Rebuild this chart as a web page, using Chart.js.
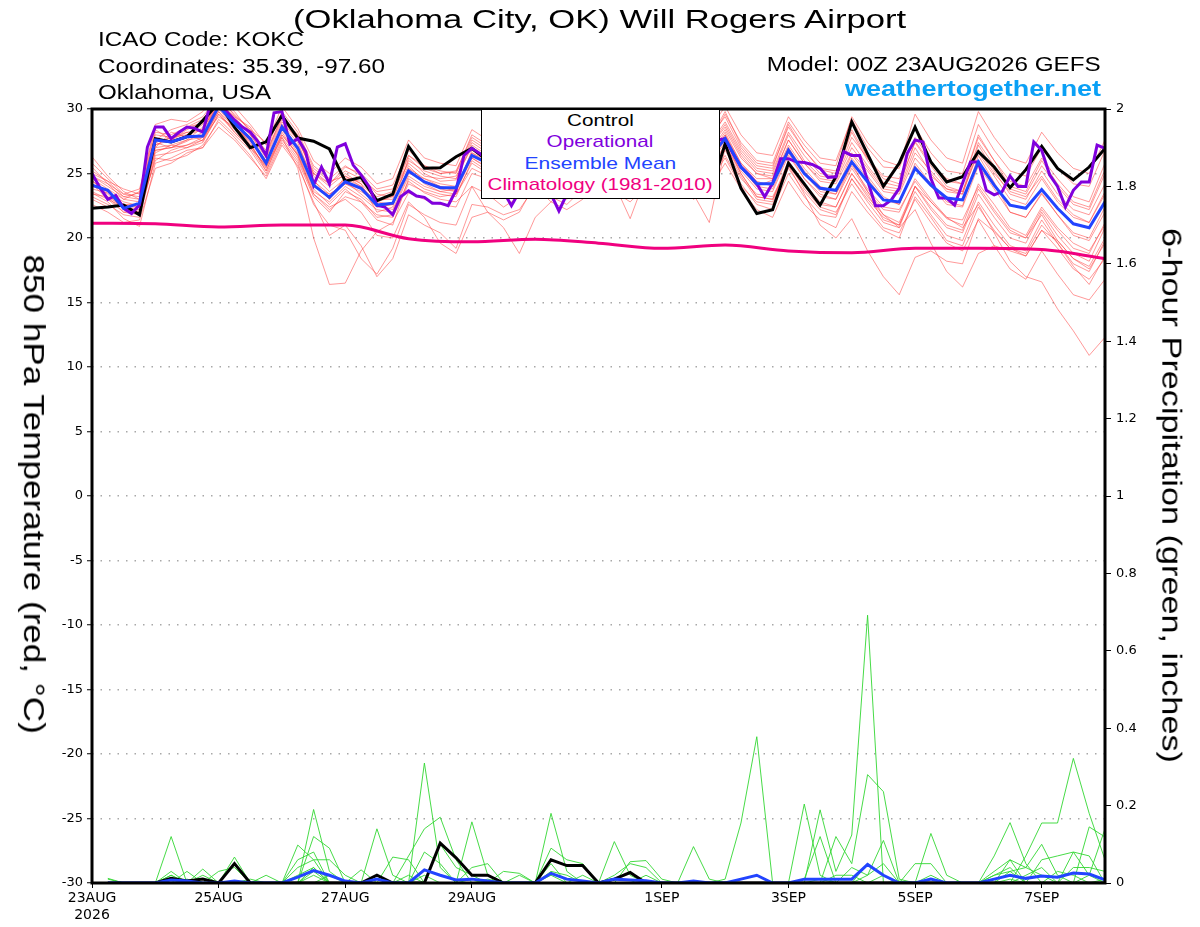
<!DOCTYPE html>
<html>
<head>
<meta charset="utf-8">
<script src="https://cdn.jsdelivr.net/npm/chart.js"></script>
<style>
  html, body { margin: 0; padding: 0; background: #fff; overflow: hidden; }
  #wrap { position: relative; width: 1200px; height: 927px; }
  #c { position: absolute; left: 0; top: 0; }
  .txt { position: absolute; white-space: nowrap; line-height: 1; font-family: "Liberation Sans", Arial, sans-serif; }
  #legendBox { position: absolute; left: 481px; top: 109px; width: 239px; height: 90px; box-sizing: border-box;
               background: #fff; border: 1.5px solid #000; }
</style>
</head>
<body>
<div id="wrap">
  <canvas id="c" width="1200" height="927"></canvas>
  <div id="legendBox"></div>
</div>
<script>
// ---------------- DATA ----------------
const tickHours = [0, 48, 96, 144, 216, 264, 312, 360];
const tickLabels = [['23AUG', '2026'], '25AUG', '27AUG', '29AUG', '1SEP', '3SEP', '5SEP', '7SEP'];

// 6-hourly (00Z 23AUG -> 00Z 8SEP), 850 hPa temperature, deg C
const controlTemp = [22.3, 22.4, 22.55, 21.8, 27.7, 27.45, 27.85, 29.1, 30.5, 28.6, 27.0, 27.45, 29.5, 27.75, 27.5, 26.9,
  24.4, 24.7, 22.9, 23.4, 27.1, 25.4, 25.45, 26.3, 26.95, 26.0, 25.0, 25.8, 27.0, 26.0, 25.5, 26.5,
  27.5, 26.5, 25.8, 27.0, 28.0, 26.5, 25.0, 23.3, 27.3, 23.85, 21.9, 22.2, 25.8, 24.2, 22.55, 24.75,
  29.0, 26.5, 24.0, 25.8, 28.6, 25.9, 24.35, 24.75, 26.7, 25.5, 23.9, 25.3, 27.1, 25.4, 24.5, 25.5, 26.95];

const meanTemp = [24.1, 23.7, 22.3, 22.7, 27.6, 27.45, 27.85, 27.9, 30.2, 28.9, 27.7, 25.8, 28.6, 26.95, 24.1, 23.15,
  24.35, 23.85, 22.55, 22.7, 25.2, 24.35, 23.9, 23.9, 26.4, 25.8, 25.0, 25.5, 26.5, 25.2, 25.0, 26.0,
  26.8, 26.0, 25.5, 26.5, 27.0, 26.0, 25.5, 26.2, 27.7, 25.5, 24.2, 24.2, 26.8, 25.0, 23.85, 23.7,
  25.9, 24.35, 22.95, 22.8, 25.4, 24.1, 23.1, 22.95, 25.9, 24.1, 22.55, 22.3, 23.75, 22.3, 21.1, 20.8, 22.8];

// 3-hourly operational run
const operationalTemp = [25.0, 23.9, 23.0, 23.3, 22.3, 21.9, 22.55, 27.05, 28.6, 28.6, 27.7, 28.2, 28.6, 28.5, 28.2, 30.5,
  30.6, 29.8, 29.15, 28.6, 28.2, 27.45, 26.4, 29.7, 29.8, 27.3, 27.7, 26.7, 24.1, 25.5, 24.2, 27.05,
  27.3, 25.65, 24.9, 24.0, 22.55, 22.4, 21.8, 23.2, 23.65, 23.25, 23.15, 22.7, 22.7, 22.5, 23.7, 26.4,
  26.95, 26.55, 26.0, 25.0, 23.6, 22.5, 23.6, 25.0, 26.0, 25.0, 23.4, 22.1, 23.4, 25.0, 26.0, 26.5,
  26.0, 25.5, 26.0, 26.5, 27.0, 26.5, 26.0, 26.5, 27.0, 27.5, 27.0, 26.5, 27.0, 27.5, 27.5, 27.6,
  27.7, 26.55, 25.5, 24.9, 24.2, 23.2, 24.25, 26.15, 26.15, 25.9, 25.85, 25.7, 25.4, 24.7, 24.75, 26.7,
  26.4, 26.4, 24.45, 22.5, 22.5, 22.95, 23.85, 26.55, 27.6, 27.45, 24.6, 23.1, 23.1, 22.55, 24.25, 25.9,
  25.9, 23.7, 23.35, 23.6, 24.8, 24.0, 24.0, 27.45, 26.8, 24.9, 24.0, 22.4, 23.7, 24.35, 24.35, 27.2, 26.95];

// daily climatology (1981-2010)
const climatologyTemp = [21.15, 21.1, 20.85, 21.0, 21.0, 19.95, 19.7, 19.9, 19.6, 19.2, 19.45, 19.0, 18.85, 19.2, 19.2, 19.1, 18.4];

// ensemble members, 6-hourly temperature
const tempMember01 = [24.8,24.0,23.2,23.5, 28.2,28.0,28.6,28.9, 31.0,29.5,28.4,26.5, 29.4,27.8,25.0,24.2, 25.5,25.0,23.8,24.1, 26.8,25.6,25.0,25.1, 28.0,27.2,26.4,26.9, 28.9,27.0,26.1,27.2, 28.5,27.6,26.8,28.0, 29.5,27.8,26.9,27.6, 29.8,27.2,25.8,25.6, 28.6,26.8,25.3,25.0, 28.2,26.0,24.3,24.0, 27.5,25.8,24.6,24.2, 27.8,26.0,24.0,23.6, 26.0,24.2,22.8,22.4, 25.3];
const tempMember02 = [24.5,23.2,22.0,21.8, 26.8,27.0,27.5,28.2, 30.5,29.0,27.2,25.5, 27.8,25.4,20.0,16.4, 16.5,19.0,20.5,21.2, 23.5,23.0,22.6,22.4, 25.0,24.6,23.8,24.2, 25.8,24.3,23.4,24.8, 26.2,25.0,24.2,25.6, 26.8,25.2,24.0,25.0, 27.2,25.0,23.2,23.0, 26.0,24.2,22.8,22.4, 25.0,23.2,21.8,21.2, 24.0,22.8,21.5,21.0, 24.2,22.6,20.8,20.2, 22.4,20.8,19.6,19.0, 21.0];
const tempMember03 = [23.8,23.5,22.8,22.5, 27.2,27.8,28.2,27.5, 29.6,28.2,27.0,25.2, 28.0,26.5,23.8,22.6, 23.8,22.8,21.4,21.0, 24.6,23.8,23.4,23.2, 26.0,25.2,24.2,24.8, 26.5,25.2,24.8,25.5, 26.2,25.6,25.0,26.2, 26.8,25.8,25.0,26.0, 28.0,25.6,24.0,24.5, 27.2,25.4,24.0,23.6, 26.5,24.8,23.2,22.6, 25.8,24.2,22.8,22.5, 26.4,24.3,22.0,21.6, 23.5,21.8,20.2,19.8, 22.0];
const tempMember04 = [25.5,24.2,23.0,23.6, 28.8,29.2,29.0,29.8, 31.2,30.2,28.8,27.2, 30.2,28.5,26.0,25.0, 26.2,25.5,24.2,24.6, 27.6,26.2,25.8,25.6, 28.4,27.6,27.0,27.4, 29.6,28.0,27.4,28.2, 29.8,28.6,27.8,28.8, 30.4,28.6,27.6,28.4, 30.2,28.0,26.6,26.4, 29.4,27.6,26.2,26.0, 29.2,27.0,25.5,25.4, 28.6,26.6,25.2,25.0, 28.8,26.8,25.2,24.8, 27.0,25.4,24.2,24.0, 26.8];
const tempMember05 = [24.2,23.0,22.4,22.2, 27.4,27.0,27.2,27.6, 30.0,28.6,27.5,26.0, 28.4,27.2,24.5,23.0, 24.8,24.0,22.6,22.2, 25.0,24.6,24.0,23.6, 26.2,25.5,24.6,25.0, 26.6,25.0,24.5,25.8, 27.0,26.2,25.4,26.4, 27.2,26.0,25.2,25.8, 27.6,25.0,23.2,23.0, 25.6,23.4,21.0,20.0, 21.5,19.0,17.0,15.6, 18.5,19.0,18.2,18.0, 21.5,20.5,19.2,18.6, 20.6,19.8,18.4,17.6, 19.6];
const tempMember06 = [23.5,22.8,21.5,20.9, 25.8,26.2,26.8,27.0, 29.2,28.0,26.8,25.0, 27.6,26.0,23.2,22.0, 23.6,23.0,21.6,21.8, 24.4,23.5,23.0,22.8, 24.0,22.0,20.8,18.8, 21.6,22.8,24.0,25.2, 26.4,25.4,24.8,25.8, 26.6,25.4,24.6,25.4, 27.2,25.2,23.8,23.6, 26.4,24.6,23.4,23.0, 25.4,23.6,22.2,22.0, 24.6,23.0,21.6,20.8, 22.6,20.4,18.2,17.0, 16.6,14.5,12.8,10.9, 12.3];
const tempMember07 = [26.3,24.8,23.6,23.0, 27.0,28.2,27.8,28.0, 30.6,29.4,28.0,26.2, 29.0,27.6,25.0,24.0, 25.0,24.2,22.0,22.4, 26.2,25.0,24.4,24.5, 27.2,26.4,25.4,26.0, 27.8,26.4,25.6,26.8, 28.2,27.0,26.2,27.6, 28.6,27.0,26.4,27.0, 28.8,26.6,25.2,25.0, 28.0,26.0,24.8,24.6, 27.4,25.6,24.0,23.8, 27.0,25.0,23.6,23.4, 27.2,25.2,23.4,23.0, 25.2,23.4,22.2,21.8, 24.2];
const tempMember08 = [24.0,23.6,22.2,22.0, 26.2,26.0,26.4,27.2, 29.0,27.8,26.4,24.6, 27.2,25.6,22.8,20.2, 21.0,19.4,17.0,18.4, 21.8,21.0,20.4,19.2, 22.6,22.4,21.8,22.2, 24.0,22.8,22.2,23.0, 24.6,23.6,22.8,24.0, 25.4,24.2,23.0,23.8, 25.8,23.8,22.2,21.6, 24.4,22.6,21.4,20.8, 23.6,22.0,20.6,20.0, 23.2,21.6,19.8,19.4, 22.4,20.6,19.2,18.8, 21.0,19.6,18.0,17.4, 19.8];
const tempMember09 = [25.0,24.4,23.8,23.4, 27.8,27.4,28.0,28.4, 30.8,29.6,28.4,27.4, 29.6,27.8,24.8,23.6, 24.6,24.4,23.2,23.6, 25.8,24.8,24.6,24.8, 27.0,26.2,25.6,26.0, 27.4,25.8,25.2,26.6, 27.6,26.6,26.0,27.2, 28.0,26.8,26.2,26.6, 28.4,26.2,25.0,24.8, 27.6,25.8,24.4,24.2, 26.6,25.2,23.6,23.4, 26.2,24.8,23.8,23.4, 26.8,25.0,23.6,23.2, 24.8,23.0,21.8,21.2, 23.6];
const tempMember10 = [23.2,22.6,21.8,21.6, 26.4,26.6,27.0,27.4, 29.6,28.4,27.2,25.4, 28.2,26.4,23.6,22.8, 24.0,23.2,22.2,22.0, 24.8,24.0,23.6,23.4, 25.8,25.0,24.4,24.8, 26.0,24.6,24.0,25.4, 26.6,25.6,25.2,26.0, 26.4,25.4,23.4,21.2, 27.0,24.8,23.0,22.8, 25.8,23.8,22.4,22.0, 24.2,22.4,20.8,20.4, 23.0,21.2,19.6,19.0, 21.4,19.4,17.6,16.8, 19.0,17.2,15.6,15.2, 16.8];
const tempMember11 = [24.6,23.8,23.0,22.8, 27.6,28.4,28.8,29.4, 31.0,29.8,28.2,26.8, 29.8,28.2,25.6,24.6, 25.6,24.8,23.4,23.2, 26.4,25.4,25.0,25.2, 27.8,27.0,26.2,26.6, 28.6,27.2,26.4,27.6, 29.0,27.8,27.0,28.2, 29.6,28.0,27.0,27.8, 29.4,27.0,25.6,25.4, 28.8,26.8,25.4,25.2, 28.4,26.2,24.8,24.6, 27.8,26.0,24.4,24.2, 28.0,26.0,24.4,24.0, 26.2,24.6,23.2,22.8, 25.8];
const tempMember12 = [22.6,22.0,21.2,21.4, 25.4,25.8,26.6,27.0, 28.6,27.6,26.2,24.8, 27.4,25.8,22.6,21.0, 20.6,18.4,17.2,19.2, 22.6,21.8,21.2,21.0, 24.0,23.4,22.4,23.2, 25.0,23.8,23.0,24.2, 25.6,24.4,23.8,25.0, 26.0,24.8,23.8,24.6, 26.4,24.2,22.6,22.2, 25.0,23.2,21.8,21.6, 24.6,22.8,21.2,20.8, 24.0,22.2,20.8,20.4, 23.4,21.6,20.0,19.6, 22.0,20.2,18.8,18.2, 20.8];
const tempMember13 = [25.8,24.6,23.4,23.8, 28.4,27.6,28.4,29.0, 30.4,29.2,27.6,25.6, 28.8,27.4,24.4,23.4, 24.2,23.6,22.8,23.2, 25.6,24.4,23.8,23.6, 26.8,26.0,25.0,25.4, 27.2,25.8,25.2,26.2, 27.4,26.4,25.8,27.0, 27.8,26.6,25.8,26.4, 28.2,25.8,24.4,24.0, 27.0,25.2,23.8,23.4, 26.2,24.6,23.0,22.6, 25.6,24.0,22.6,22.4, 25.6,23.8,22.0,21.6, 23.4,21.8,20.4,20.0, 22.4];
const tempMember14 = [23.0,22.4,22.6,22.4, 26.6,27.2,27.6,28.6, 30.2,28.8,27.6,25.8, 28.6,27.0,24.0,23.2, 24.6,24.0,22.8,22.6, 25.4,24.6,24.2,24.0, 26.6,25.8,25.2,25.6, 27.0,25.6,25.2,26.4, 27.2,26.2,25.6,26.8, 27.4,26.2,25.6,26.2, 28.0,25.8,24.6,24.6, 27.0,25.0,23.6,23.4, 25.6,23.8,22.4,22.2, 24.4,22.8,21.6,21.4, 24.0,22.2,20.6,20.0, 21.8,19.8,18.4,17.8, 20.0];
const tempMember15 = [24.4,23.6,22.6,22.6, 27.0,27.2,27.0,27.6, 29.8,28.2,27.0,25.6, 28.0,26.4,23.4,22.4, 23.0,22.0,20.2,20.0, 22.8,21.6,19.6,18.8, 21.6,22.0,21.4,22.0, 24.2,23.2,22.6,23.8, 25.2,24.2,21.5,24.8, 25.8,24.6,23.6,24.4, 26.2,24.0,22.8,22.6, 25.4,23.6,22.2,21.8, 24.6,23.0,21.6,21.0, 24.0,22.4,21.0,20.6, 23.8,22.0,20.4,20.0, 22.2,20.6,19.2,18.8, 21.2];
const tempMember16 = [24.2,23.4,22.2,22.0, 27.2,27.6,28.2,28.4, 30.6,29.0,27.8,26.0, 28.8,27.0,24.2,23.0, 24.4,23.4,22.4,22.6, 25.4,24.2,23.6,23.8, 26.6,26.0,25.4,25.8, 28.2,26.6,25.8,27.0, 28.6,27.4,26.6,27.8, 29.0,27.6,26.8,27.4, 29.6,27.4,26.0,25.8, 29.0,27.2,25.8,25.6, 29.4,27.4,26.0,25.6, 29.6,27.6,26.2,25.8, 29.8,27.8,26.2,25.8, 28.2,26.6,25.4,25.0, 27.6];
const tempMember17 = [23.6,23.0,22.0,22.2, 26.0,26.8,27.2,27.8, 29.4,28.6,27.4,25.2, 27.8,26.2,23.4,22.2, 23.2,22.8,21.8,21.6, 24.2,23.6,23.2,23.4, 25.4,24.8,24.2,24.6, 25.8,24.6,24.2,25.0, 26.0,25.2,24.6,25.6, 26.2,25.2,24.4,25.2, 26.8,24.6,23.4,23.2, 25.6,24.0,22.6,22.4, 25.0,23.4,21.4,21.0, 23.6,21.8,20.2,19.8, 22.8,21.0,19.4,19.0, 21.4,19.6,17.8,16.4, 18.6];
const tempMember18 = [24.8,24.2,23.4,23.2, 28.0,27.8,28.6,29.2, 30.8,29.2,28.0,26.4, 29.2,27.6,25.2,24.2, 25.2,24.6,23.6,23.8, 26.4,25.6,25.2,25.0, 27.6,26.8,26.0,26.4, 28.0,26.8,26.2,27.2, 28.4,27.2,26.6,27.4, 28.6,27.4,26.6,27.2, 29.0,26.8,25.4,25.2, 28.2,26.4,25.0,24.8, 27.8,26.2,24.6,24.2, 27.4,25.6,24.0,23.6, 27.4,25.6,23.8,23.4, 25.6,24.0,22.6,22.2, 25.0];
const tempMember19 = [23.4,23.2,22.4,22.4, 26.8,27.0,27.6,27.8, 29.8,28.6,27.6,25.8, 28.4,26.6,24.0,23.4, 24.2,23.8,22.4,22.6, 25.2,24.4,24.0,23.8, 26.2,25.4,24.8,25.2, 26.4,25.2,24.8,25.8, 26.8,26.0,25.2,26.2, 27.0,25.8,25.2,25.8, 27.4,25.4,24.0,23.8, 26.6,24.6,23.2,23.0, 25.8,23.6,21.8,20.8, 22.2,19.6,17.4,16.2, 18.8,19.4,19.0,18.6, 20.6,19.2,17.6,16.8, 18.4];
const tempMember20 = [25.2,24.4,23.2,23.0, 27.4,27.8,28.0,28.8, 30.4,29.4,28.6,26.6, 29.4,28.0,25.4,24.4, 24.8,24.2,23.0,23.0, 26.0,25.2,24.8,24.6, 27.4,26.6,25.8,26.2, 27.6,26.2,25.6,26.4, 27.8,26.8,26.4,27.0, 28.2,27.2,26.4,27.0, 28.6,26.4,25.0,24.6, 27.6,25.8,24.6,24.4, 27.0,25.4,23.8,23.6, 26.6,25.2,23.8,23.6, 26.6,24.8,23.0,22.6, 24.6,22.8,21.6,21.2, 23.4];

// 6-hour precipitation (inches): [step index, value]; steps not listed are 0
const controlPrecip = [[5,0.012],[6,0.005],[7,0.01],[9,0.05],[18,0.02],[22,0.103],[23,0.065],[24,0.02],[25,0.02],[29,0.06],[30,0.045],[31,0.045],[33,0.01],[34,0.027]];
const meanPrecip = [[5,0.008],[6,0.005],[9,0.005],[13,0.015],[14,0.032],[15,0.02],[16,0.005],[18,0.01],[21,0.034],[22,0.02],[23,0.008],[24,0.01],[25,0.005],[29,0.025],[30,0.01],[31,0.005],[33,0.01],[34,0.008],[35,0.006],[38,0.005],[41,0.01],[42,0.02],[45,0.01],[46,0.01],[47,0.01],[48,0.01],[49,0.048],[50,0.02],[53,0.01],[57,0.01],[58,0.02],[59,0.012],[60,0.018],[61,0.015],[62,0.026],[63,0.023],[64,0.008]];
const precipMember01 = [[1,0.01],[5,0.12],[14,0.19],[15,0.03],[21,0.31],[22,0.04],[40,0.01],[41,0.155],[42,0.378],[49,0.05],[50,0.02],[57,0.02],[58,0.04]];
const precipMember02 = [[5,0.02],[9,0.067],[13,0.098],[14,0.06],[18,0.14],[19,0.02],[24,0.158],[25,0.02],[45,0.204],[46,0.02],[59,0.07],[60,0.155],[61,0.155],[62,0.322],[63,0.18],[64,0.06]];
const precipMember03 = [[7,0.036],[14,0.12],[15,0.09],[20,0.07],[21,0.14],[22,0.17],[23,0.06],[29,0.18],[30,0.03],[46,0.189],[47,0.03],[48,0.124],[49,0.692],[57,0.07],[58,0.156],[59,0.05],[63,0.145],[64,0.119]];
const precipMember04 = [[1,0.012],[6,0.03],[8,0.03],[9,0.04],[13,0.06],[14,0.08],[17,0.034],[21,0.08],[22,0.05],[29,0.09],[30,0.06],[31,0.05],[33,0.107],[34,0.02],[47,0.12],[48,0.05],[49,0.28],[50,0.236],[51,0.01],[60,0.06],[61,0.07],[62,0.08],[63,0.07]];
const precipMember05 = [[5,0.03],[7,0.02],[11,0.02],[14,0.04],[19,0.067],[20,0.06],[24,0.04],[25,0.05],[34,0.055],[35,0.058],[36,0.01],[48,0.04],[49,0.02],[50,0.11],[53,0.128],[54,0.02],[58,0.06],[59,0.04],[60,0.1],[61,0.02]];
const precipMember06 = [[13,0.04],[14,0.06],[15,0.06],[16,0.02],[26,0.03],[27,0.025],[29,0.05],[38,0.094],[39,0.01],[45,0.01],[46,0.12],[52,0.05],[53,0.05],[57,0.03],[58,0.06],[62,0.04],[63,0.04],[64,0.03]];
const precipMember07 = [[10,0.01],[14,0.03],[18,0.02],[22,0.1],[23,0.04],[24,0.02],[27,0.02],[29,0.02],[33,0.02],[34,0.05],[35,0.04],[49,0.02],[50,0.05],[58,0.03],[59,0.04],[60,0.02],[62,0.08],[63,0.02],[64,0.14]];
const precipMember08 = [[5,0.02],[13,0.02],[14,0.04],[21,0.02],[29,0.03],[30,0.02],[47,0.02],[48,0.02],[57,0.02],[58,0.03],[61,0.03],[62,0.02]];
const precipMember09 = [[14,0.02],[20,0.02],[24,0.01],[31,0.02],[35,0.02],[50,0.02],[53,0.02],[59,0.02],[60,0.04],[63,0.02]];
const precipMember10 = [[6,0.01],[15,0.02],[25,0.01],[46,0.01],[51,0.005],[58,0.01],[64,0.01]];

// ---------------- BUILD ----------------
const tempMembers = [tempMember01, tempMember02, tempMember03, tempMember04, tempMember05, tempMember06, tempMember07,
  tempMember08, tempMember09, tempMember10, tempMember11, tempMember12, tempMember13, tempMember14, tempMember15,
  tempMember16, tempMember17, tempMember18, tempMember19, tempMember20];
const precipMembers = [precipMember01, precipMember02, precipMember03, precipMember04, precipMember05,
  precipMember06, precipMember07, precipMember08, precipMember09, precipMember10];

const STEPS = 64;
const series = (arr, hours) => arr.map((v, i) => ({ x: i * hours, y: v }));
const precipSeries = (pairs) => {
  const m = new Map(pairs);
  const out = [];
  for (let i = 1; i <= STEPS; i++) out.push({ x: i * 6, y: m.has(i) ? m.get(i) : 0 });
  return out;
};

const datasets = [];
datasets.push({ data: series(meanTemp, 6), borderColor: '#2244ff', borderWidth: 3, yAxisID: 'y', order: 0 });
datasets.push({ data: series(operationalTemp, 3), borderColor: '#8000dd', borderWidth: 3, yAxisID: 'y', order: 1 });
datasets.push({ data: series(controlTemp, 6), borderColor: '#000000', borderWidth: 3, yAxisID: 'y', order: 2 });
datasets.push({ data: series(climatologyTemp, 24), borderColor: '#f0007f', borderWidth: 3, yAxisID: 'y', order: 3,
  cubicInterpolationMode: 'monotone' });
datasets.push({ data: precipSeries(meanPrecip), borderColor: '#2244ff', borderWidth: 3, yAxisID: 'y2', order: 4 });
datasets.push({ data: precipSeries(controlPrecip), borderColor: '#000000', borderWidth: 3, yAxisID: 'y2', order: 5 });
precipMembers.forEach((p, k) => datasets.push({ data: precipSeries(p), borderColor: 'rgb(50,215,50)', borderWidth: 0.9,
  yAxisID: 'y2', order: 10 + k }));
tempMembers.forEach((t, k) => datasets.push({ data: series(t, 6), borderColor: 'rgba(255,60,60,0.62)', borderWidth: 0.85,
  yAxisID: 'y', order: 30 + k }));

const framePlugin = {
  id: 'frame',
  afterDraw(chart) {
    const { ctx, chartArea: a } = chart;
    ctx.save();
    ctx.strokeStyle = '#000';
    ctx.lineWidth = 3;
    ctx.strokeRect(a.left, a.top, a.right - a.left, a.bottom - a.top);
    ctx.restore();
  }
};

const tickFont = { family: 'DejaVu Sans', size: 13 };
new Chart(document.getElementById('c'), {
  type: 'line',
  data: { datasets },
  options: {
    responsive: false,
    animation: false,
    layout: { padding: { top: 109, left: 0, right: 0, bottom: 0 } },
    plugins: { legend: { display: false }, tooltip: { enabled: false }, title: { display: false } },
    elements: { point: { radius: 0 }, line: { tension: 0, fill: false } },
    scales: {
      x: {
        type: 'linear', min: 0, max: 384,
        afterFit(s) { s.height = 44; },
        afterBuildTicks(s) { s.ticks = tickHours.map(v => ({ value: v })); },
        ticks: {
          autoSkip: false, maxRotation: 0, padding: 2, color: '#000',
          font: { family: 'DejaVu Sans', size: 14 },
          callback: (v) => { const i = tickHours.indexOf(v); return i >= 0 ? tickLabels[i] : ''; }
        },
        grid: { drawOnChartArea: false, tickLength: 5, tickColor: '#000', tickWidth: 1 },
        border: { display: false }
      },
      y: {
        position: 'left', min: -30, max: 30,
        afterFit(s) { s.width = 92; },
        ticks: { stepSize: 5, padding: 4, color: '#000', font: tickFont },
        grid: { color: '#a8a8a8', lineWidth: 1.5, tickColor: '#000', tickLength: 5, tickWidth: 1 },
        border: { display: false, dash: [1.5, 7] }
      },
      y2: {
        position: 'right', min: 0, max: 2,
        afterFit(s) { s.width = 95; },
        ticks: { stepSize: 0.2, padding: 5, color: '#000', font: tickFont,
          callback: (v) => String(Number(v.toFixed(1))) },
        grid: { drawOnChartArea: false, tickColor: '#000', tickLength: 6, tickWidth: 1 },
        border: { display: false }
      }
    }
  },
  plugins: [framePlugin]
});

// ---------------- TEXT ----------------
const mctx = document.createElement('canvas').getContext('2d');
function measure(text, size, bold) {
  mctx.font = (bold ? 'bold ' : '') + size + 'px "Liberation Sans"';
  return mctx.measureText(text).width;
}
function addText(parent, text, o) {
  const d = document.createElement('div');
  d.className = 'txt';
  d.textContent = text;
  d.style.fontSize = o.size + 'px';
  if (o.bold) d.style.fontWeight = 'bold';
  d.style.color = o.color || '#000';
  const nw = measure(text, o.size, o.bold);
  const s = o.w ? o.w / nw : 1;
  const ox = o.ox || 0, oy = o.oy || 0;
  if (o.rot) {
    d.style.left = (o.cx - nw / 2 - ox) + 'px';
    d.style.top = (o.cy - o.size / 2 - oy) + 'px';
    d.style.width = nw + 'px';
    d.style.transformOrigin = 'center center';
    d.style.transform = 'rotate(' + o.rot + 'deg) scaleX(' + s + ')';
  } else {
    let left;
    if (o.align === 'right') { left = o.x - nw; d.style.transformOrigin = 'right center'; }
    else if (o.align === 'center') { left = o.x - nw / 2; d.style.transformOrigin = 'center center'; }
    else { left = o.x; d.style.transformOrigin = 'left center'; }
    d.style.left = (left - ox) + 'px';
    d.style.top = (o.base - 0.8465 * o.size - oy) + 'px';
    d.style.width = nw + 'px';
    d.style.transform = 'scaleX(' + s + ')';
  }
  parent.appendChild(d);
}
const wrap = document.getElementById('wrap');
const lg = document.getElementById('legendBox');
addText(wrap, '(Oklahoma City, OK) Will Rogers Airport', { x: 292.5, w: 615, base: 28.5, size: 26 });
addText(wrap, 'ICAO Code: KOKC', { x: 98, w: 206, base: 45.5, size: 20 });
addText(wrap, 'Coordinates: 35.39, -97.60', { x: 98, w: 287, base: 72.5, size: 20 });
addText(wrap, 'Oklahoma, USA', { x: 98, w: 173, base: 99, size: 20 });
addText(wrap, 'Model: 00Z 23AUG2026 GEFS', { x: 1100.5, align: 'right', w: 334, base: 70.5, size: 20 });
addText(wrap, 'weathertogether.net', { x: 1101, align: 'right', w: 256, base: 96.5, size: 22, bold: true, color: '#0aa0f5' });
addText(wrap, '850 hPa Temperature (red, \u00B0C)', { rot: 90, cx: 33, cy: 494, w: 480, size: 29 });
addText(wrap, '6-hour Precipitation (green, inches)', { rot: 90, cx: 1171, cy: 495, w: 535, size: 27 });
// legend (inside box: offset by box position + border)
const LX = 481 + 1.5, LY = 109 + 1.5;
addText(lg, 'Control', { x: 600.5, align: 'center', w: 66.7, base: 126.5, size: 17, ox: LX, oy: LY });
addText(lg, 'Operational', { x: 600.5, align: 'center', w: 106.7, base: 147.7, size: 17, color: '#8000dd', ox: LX, oy: LY });
addText(lg, 'Ensemble Mean', { x: 600.5, align: 'center', w: 151.7, base: 170, size: 17, color: '#2244ff', ox: LX, oy: LY });
addText(lg, 'Climatology (1981-2010)', { x: 600.5, align: 'center', w: 225, base: 191, size: 17, color: '#f0007f', ox: LX, oy: LY });
</script>
</body>
</html>
